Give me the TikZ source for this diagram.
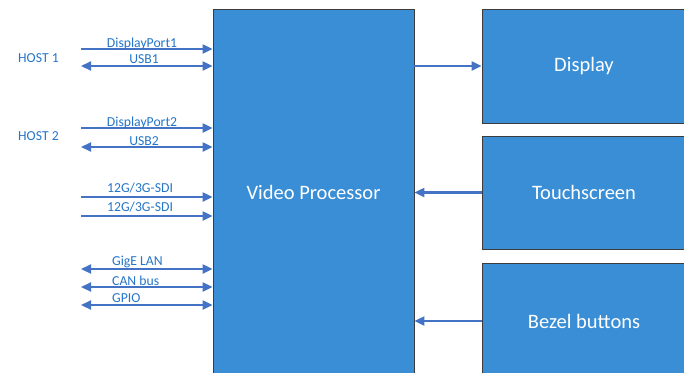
\documentclass[tikz,border=0pt]{standalone}
\usepackage{fontspec}
\setmainfont{Carlito}
\usetikzlibrary{arrows.meta}
\definecolor{boxfill}{RGB}{58,142,214}
\definecolor{arrowcol}{RGB}{68,114,196}
\definecolor{labelcol}{RGB}{36,117,200}
\definecolor{edgecol}{RGB}{60,60,60}
\begin{document}
\begin{tikzpicture}[x=1pt,y=-1pt,
  blockbox/.style={draw=edgecol,line width=0.9pt,fill=boxfill,text=white,font=\fontsize{20.5}{23}\selectfont,inner sep=0pt},
  lbl/.style={text=labelcol,font=\fontsize{13.7}{15}\selectfont,inner sep=0pt,anchor=base},
  lbll/.style={lbl,anchor=base west},
  tip/.style={-{Triangle[length=10pt,width=9pt]}},
  dtip/.style={{Triangle[length=10pt,width=9pt]}-{Triangle[length=10pt,width=9pt]}},
  conn/.style={draw=arrowcol,line width=2.2pt}]
\useasboundingbox (0,0) rectangle (684,372);
\clip (0,0) rectangle (684,372);
% boxes
\node[blockbox,minimum width=201pt,minimum height=367pt] (vp) at (313.5,192.5) {};
\node[text=white,font=\fontsize{20.5}{23}\selectfont] (vpl) at (313.5,192) {Video Processor};
\node[blockbox,minimum width=204pt,minimum height=114pt] (disp) at (584,66) {Display};
\node[blockbox,minimum width=204pt,minimum height=113pt] (touch) at (584,192.5) {Touchscreen};
\node[blockbox,minimum width=204pt,minimum height=116pt] (bezel) at (584,321) {Bezel buttons};
% hosts
\node[lbll] (h1) at (18,62) {HOST 1};
\node[lbll] (h2) at (18,140) {HOST 2};
% left line start coordinates
\coordinate (dp1) at (81,49);
\coordinate (usb1) at (81,66);
\coordinate (dp2) at (81,128);
\coordinate (usb2) at (81,147);
\coordinate (sdi1) at (81,197);
\coordinate (sdi2) at (81,216);
\coordinate (gige) at (81,269);
\coordinate (can) at (81,287);
\coordinate (gpio) at (81,305);
% connectors
\draw[conn,tip] (dp1) -- (dp1 -| vp.west);
\draw[conn,dtip] (usb1) -- (usb1 -| vp.west);
\draw[conn,tip] (dp2) -- (dp2 -| vp.west);
\draw[conn,dtip] (usb2) -- (usb2 -| vp.west);
\draw[conn,tip] (sdi1) -- (sdi1 -| vp.west);
\draw[conn,tip] (sdi2) -- (sdi2 -| vp.west);
\draw[conn,dtip] (gige) -- (gige -| vp.west);
\draw[conn,dtip] (can) -- (can -| vp.west);
\draw[conn,dtip] (gpio) -- (gpio -| vp.west);
\draw[conn,tip] (vp.east |- disp.west) -- (disp.west);
\draw[conn,tip] (touch.west) -- (touch.west -| vp.east);
\draw[conn,tip] (bezel.west) -- (bezel.west -| vp.east);
% labels
\node[lbl] (ldp1) at (142,47.5) {DisplayPort1};
\node[lbl] (lusb1) at (144,63.3) {USB1};
\node[lbl] (ldp2) at (142,126) {DisplayPort2};
\node[lbl] (lusb2) at (144,145) {USB2};
\node[lbll] (lsdi1) at (107,192) {12G/3G-SDI};
\node[lbll] (lsdi2) at (107,211.7) {12G/3G-SDI};
\node[lbll] (lgige) at (112,265) {GigE LAN};
\node[lbll] (lcan) at (112,285) {CAN bus};
\node[lbll] (lgpio) at (112,302.7) {GPIO};
\end{tikzpicture}
\end{document}
